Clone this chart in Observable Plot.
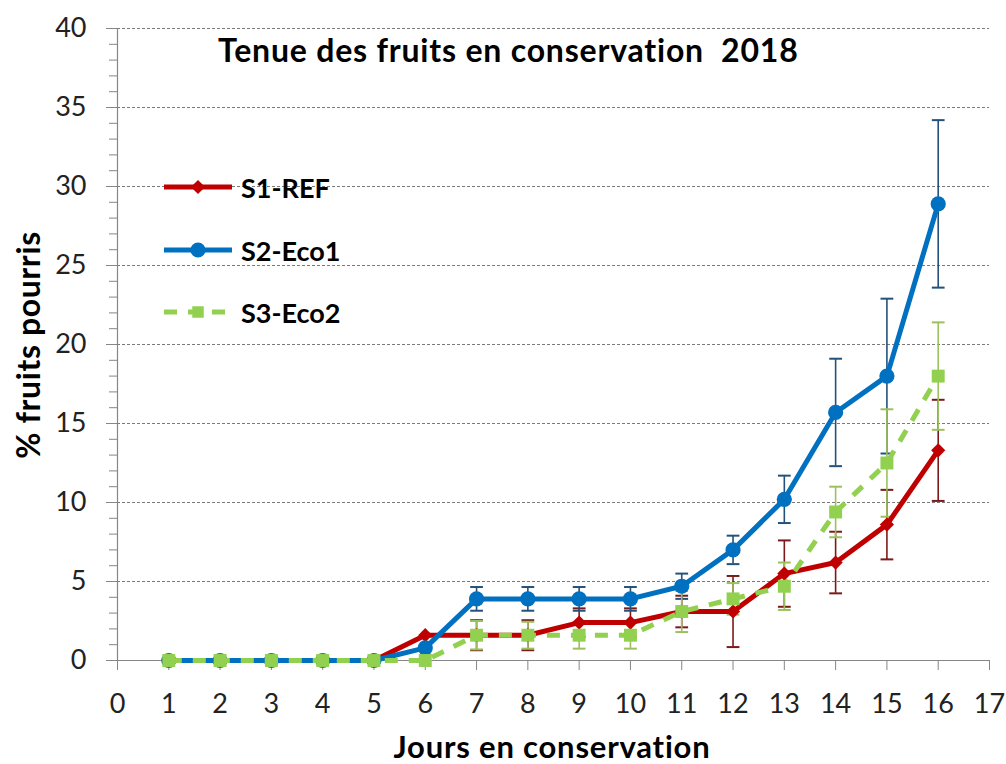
<!DOCTYPE html>
<html>
<head>
<meta charset="utf-8">
<script src="https://cdn.jsdelivr.net/npm/d3@7"></script>
<script src="https://cdn.jsdelivr.net/npm/@observablehq/plot@0.6"></script>
<style>
  html, body { margin: 0; padding: 0; background: #fff; }
  #wrap { position: relative; width: 1006px; height: 764px; font-family: Lato, "Open Sans", sans-serif; overflow: hidden; }
  #wrap svg { display: block; }
  .ov { position: absolute; font-weight: bold; color: #000; white-space: pre; line-height: 1; }
  .leg { position: absolute; display: flex; align-items: center; font-weight: bold; font-size: 27px; line-height: 1; }
  .leg svg { margin-right: 8px; }
</style>
</head>
<body>
<div id="wrap"></div>
<script>
const days = [1, 2, 3, 4, 5, 6, 7, 8, 9, 10, 11, 12, 13, 14, 15, 16];
const seriesNames = ["S1-REF", "S2-Eco1", "S3-Eco2"];
const s1Values = [0, 0, 0, 0, 0, 1.6, 1.6, 1.6, 2.4, 2.4, 3.1, 3.1, 5.5, 6.2, 8.6, 13.3];
const s1Errors = [0, 0, 0, 0, 0, 0, 0.95, 0.95, 0.9, 0.9, 1.0, 2.25, 2.1, 1.95, 2.2, 3.2];
const s2Values = [0, 0, 0, 0, 0, 0.8, 3.9, 3.9, 3.9, 3.9, 4.7, 7.0, 10.2, 15.7, 18.0, 28.9];
const s2Errors = [0, 0, 0, 0, 0, 0, 0.75, 0.75, 0.75, 0.75, 0.8, 0.9, 1.5, 3.4, 4.9, 5.3];
const s3Values = [0, 0, 0, 0, 0, 0, 1.6, 1.6, 1.6, 1.6, 3.1, 3.9, 4.7, 9.4, 12.5, 18.0];
const s3Errors = [0, 0, 0, 0, 0, 0, 0.9, 0.85, 0.85, 0.85, 1.3, 1.0, 1.5, 1.6, 3.4, 3.4];
const xTicks = d3.range(0, 18, 1);
const yTicks = d3.range(0, 45, 5);
const yMinorTicks = d3.range(0, 41, 1);

const lineColors = ["#C00000", "#0070C0", "#92D050"];
const errColors = ["#7B1A1A", "#23517C", "#9CC05E"];

function rows(name, vals, errs) {
  return days.map((d, i) => ({ series: name, day: d, value: vals[i], err: errs[i] }));
}
const data = [
  rows(seriesNames[0], s1Values, s1Errors),
  rows(seriesNames[1], s2Values, s2Errors),
  rows(seriesNames[2], s3Values, s3Errors)
];

const capSymbol = { draw(ctx, size) { const w = Math.sqrt(size); ctx.moveTo(-w, 0); ctx.lineTo(w, 0); } };

function errorMarks(rowsArr, color) {
  const e = rowsArr.filter(d => d.err > 0);
  return [
    Plot.ruleX(e, { x: "day", y1: d => d.value - d.err, y2: d => d.value + d.err, stroke: color, strokeWidth: 1.6 }),
    Plot.dot(e, { x: "day", y: d => d.value + d.err, symbol: capSymbol, r: 3.6, stroke: color, strokeWidth: 2, fill: "none" }),
    Plot.dot(e, { x: "day", y: d => d.value - d.err, symbol: capSymbol, r: 3.6, stroke: color, strokeWidth: 2, fill: "none" })
  ];
}

const symbols = ["diamond2", "circle", "square"];
const symbolR = [6.4, 7.6, 7.3];

const marks = [
  Plot.gridY(yTicks.filter(v => v > 0), { stroke: "#7a7a7a", strokeOpacity: 1, strokeDasharray: "3,2", strokeWidth: 1 }),
  Plot.axisY(yMinorTicks, { tickSize: 8, text: null, stroke: "#868686", label: null }),
  Plot.axisY(yTicks, { tickSize: 11, tickPadding: 20, fontSize: 27, stroke: "#868686", color: "#222", label: null }),
  Plot.axisX(xTicks, { tickSize: 10, tickPadding: 23, fontSize: 27, stroke: "#868686", color: "#222", label: null }),
  Plot.ruleX([0], { stroke: "#868686", strokeWidth: 1.2 }),
  Plot.ruleY([0], { stroke: "#868686", strokeWidth: 1.2 })
];
data.forEach((rs, i) => {
  marks.push(...errorMarks(rs, errColors[i]));
});
data.forEach((rs, i) => {
  marks.push(Plot.line(rs, {
    x: "day", y: "value", stroke: lineColors[i], strokeWidth: 5,
    strokeDasharray: i === 2 ? "13,11" : null, strokeLinejoin: "round", strokeLinecap: i === 2 ? "butt" : "round"
  }));
  marks.push(Plot.dot(rs, {
    x: "day", y: "value", symbol: symbols[i], r: symbolR[i], fill: lineColors[i], stroke: "none"
  }));
});

const chart = Plot.plot({
  width: 1006,
  height: 764,
  marginLeft: 117,
  marginRight: 17,
  marginTop: 28,
  marginBottom: 104,
  style: { fontFamily: "Lato, 'Open Sans', sans-serif", background: "#fff" },
  x: { domain: [0, 17], label: null },
  y: { domain: [0, 40], label: null },
  marks
});

const wrap = document.getElementById("wrap");
wrap.appendChild(chart);

function addText(txt, css) {
  const d = document.createElement("div");
  d.className = "ov";
  d.textContent = txt;
  Object.assign(d.style, css);
  wrap.appendChild(d);
  return d;
}
addText("Tenue des fruits en conservation  2018", { left: "218px", top: "34px", fontSize: "32px", letterSpacing: "0.8px" });
addText("Jours en conservation", { left: "552px", top: "731px", fontSize: "31px", letterSpacing: "0.8px", transform: "translateX(-50%)" });
addText("% fruits pourris", { left: "28px", top: "345px", fontSize: "32px", letterSpacing: "0.6px", transform: "translate(-50%,-50%) rotate(-90deg)" });

// legend
const legTops = [187, 250, 312];
seriesNames.forEach((name, i) => {
  const row = document.createElement("div");
  row.className = "leg";
  row.style.left = "163px";
  row.style.top = (legTops[i] - 17) + "px";
  const ns = "http://www.w3.org/2000/svg";
  const s = document.createElementNS(ns, "svg");
  s.setAttribute("width", 70); s.setAttribute("height", 34);
  const ln = document.createElementNS(ns, "line");
  ln.setAttribute("x1", 1); ln.setAttribute("x2", 69); ln.setAttribute("y1", 17); ln.setAttribute("y2", 17);
  ln.setAttribute("stroke", lineColors[i]); ln.setAttribute("stroke-width", 5);
  if (i === 2) { ln.setAttribute("stroke-dasharray", "13,11"); }
  s.appendChild(ln);
  const sym = d3.symbol(i === 0 ? d3.symbolDiamond2 : i === 1 ? d3.symbolCircle : d3.symbolSquare2, Math.PI * symbolR[i] * symbolR[i]);
  const p = document.createElementNS(ns, "path");
  p.setAttribute("d", sym());
  p.setAttribute("transform", "translate(35,17)");
  p.setAttribute("fill", lineColors[i]);
  s.appendChild(p);
  row.appendChild(s);
  const t = document.createElement("span");
  t.textContent = name;
  row.appendChild(t);
  wrap.appendChild(row);
});
</script>
</body>
</html>
